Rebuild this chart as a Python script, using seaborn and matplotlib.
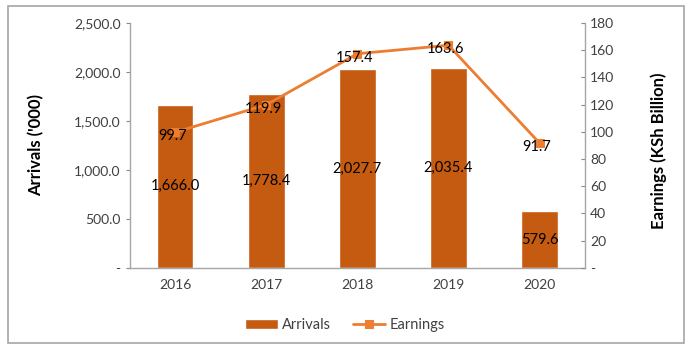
import matplotlib
matplotlib.use("Agg")
import matplotlib.pyplot as plt
import matplotlib.ticker as mticker
from matplotlib.patches import Rectangle
import seaborn as sns
import pandas as pd

years = ["2016", "2017", "2018", "2019", "2020"]
arrivals = [1666.0, 1778.4, 2027.7, 2035.4, 579.6]
earnings = [99.7, 119.9, 157.4, 163.6, 91.7]

bar_color = "#C55A11"
line_color = "#ED7D31"
text_color = "#404040"

sns.set_style("white")
plt.rcParams["font.family"] = ["Lato", "DejaVu Sans"]

df = pd.DataFrame({"Year": years, "Arrivals": arrivals, "Earnings": earnings})

fig = plt.figure(figsize=(6.9, 3.53), dpi=100)
ax = fig.add_axes([0.188, 0.241, 0.66, 0.694])

sns.barplot(data=df, x="Year", y="Arrivals", color=bar_color, width=0.4,
            saturation=1, ax=ax, label="Arrivals")
if ax.get_legend() is not None:
    ax.get_legend().remove()
ax.set_xlim(-0.5, 4.5)
ax.set_ylim(0, 2500)
ax.yaxis.set_major_locator(mticker.MultipleLocator(500))
ax.yaxis.set_major_formatter(mticker.FuncFormatter(
    lambda v, p: "-" if v == 0 else f"{v:,.1f}"))
ax.set_xlabel("")
ax.set_ylabel("Arrivals ('000)", fontsize=12, fontweight="bold", color="black")
ax.yaxis.set_label_coords(-0.187, 0.5)

for i, v in enumerate(arrivals):
    ax.text(i, v / 2, f"{v:,.1f}", ha="center", va="center", fontsize=10.5,
            color="black")

ax2 = ax.twinx()
sns.lineplot(data=df, x="Year", y="Earnings", color=line_color, marker="s",
             markersize=6, markeredgecolor=line_color, linewidth=2, ax=ax2,
             label="Earnings", legend=False)
ax2.set_ylim(0, 180)
ax2.yaxis.set_major_locator(mticker.MultipleLocator(20))
ax2.yaxis.set_major_formatter(mticker.FuncFormatter(
    lambda v, p: "-" if v == 0 else f"{v:.0f}"))
ax2.set_ylabel("Earnings (KSh Billion)", fontsize=12, fontweight="bold",
               color="black")
ax2.yaxis.set_label_coords(1.143, 0.48)
ax2.set_xlabel("")

for i, v in enumerate(earnings):
    ax2.text(i - 0.03, v - 3, f"{v:.1f}", ha="center", va="center",
             fontsize=10.5, color="black")

for a in (ax, ax2):
    for s in a.spines.values():
        s.set_visible(False)
    a.tick_params(colors="#888888", labelcolor=text_color, labelsize=10,
                  length=3, width=0.8)
    a.grid(False)
ax.spines["left"].set_visible(True)
ax.spines["bottom"].set_visible(True)
ax2.spines["right"].set_visible(True)
for s in (ax.spines["left"], ax.spines["bottom"], ax2.spines["right"]):
    s.set_color("#A6A6A6")
    s.set_linewidth(1)
ax.tick_params(axis="x", length=0, pad=8)
ax.set_xticks([i + 0.5 for i in range(-1, 5)], minor=True)
ax.tick_params(axis="x", which="minor", length=4, color="#A6A6A6")
ax2.tick_params(axis="y", direction="in", length=3)

bar_handle = ax.patches[0]
line_handle = ax2.get_lines()[0]
fig.legend([bar_handle, line_handle], ["Arrivals", "Earnings"], loc="center",
           bbox_to_anchor=(0.5, 0.08), ncol=2, frameon=False, fontsize=10.5,
           handlelength=2.2, columnspacing=1.5, handletextpad=0.3,
           labelcolor=text_color)

fig.patches.append(Rectangle((0.011, 0.028), 0.98, 0.955,
                             transform=fig.transFigure, fill=False,
                             edgecolor="#A6A6A6", linewidth=1.2))

fig.savefig("out.png", dpi=100)
